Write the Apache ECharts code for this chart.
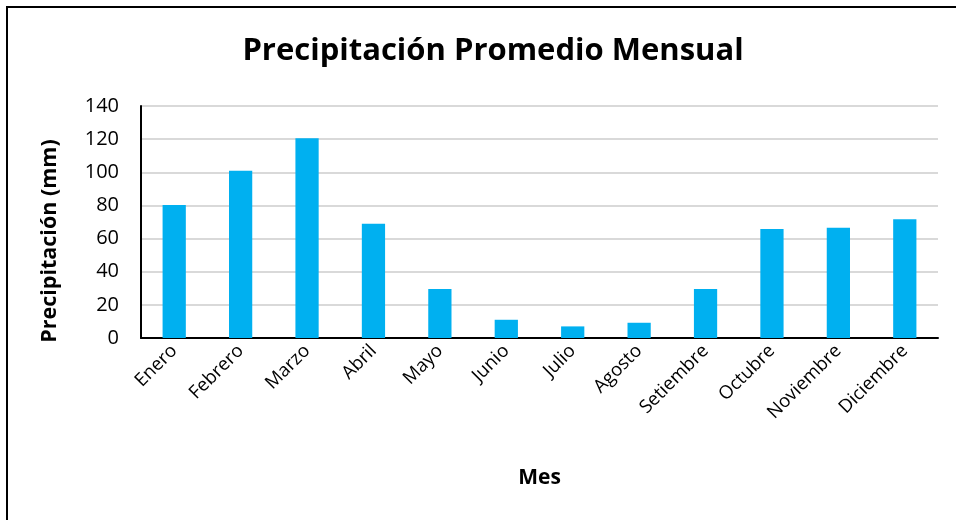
<!DOCTYPE html>
<html>
<head>
<meta charset="utf-8">
<script src="https://cdn.jsdelivr.net/npm/echarts@6/dist/echarts.min.js"></script>
<style>
  html, body { margin: 0; padding: 0; background: #fff; overflow: hidden; }
  #frame { position: absolute; left: 6px; top: 6px; width: 1000px; height: 600px;
           border-left: 2px solid #000; border-top: 2px solid #000; }
  #main { position: absolute; left: 0; top: 0; width: 956px; height: 520px; }
</style>
</head>
<body>
<div id="frame"></div>
<div id="main"></div>
<script>
const meses = ['Enero', 'Febrero', 'Marzo', 'Abril', 'Mayo', 'Junio', 'Julio',
  'Agosto', 'Setiembre', 'Octubre', 'Noviembre', 'Diciembre']
const precipitacion = [80.2, 101, 120.6, 69, 29.5, 11, 7, 9.2, 29.5, 65.8, 66.6, 71.6]
const yMin = 0
const yMax = 140
const yStep = 20

const font = "'Open Sans', 'Noto Sans', sans-serif"
const chart = echarts.init(document.getElementById('main'))

chart.setOption({
  animation: false,
  title: {
    text: 'Precipitación Promedio Mensual',
    left: 488,
    textAlign: 'center',
    top: 31,
    textStyle: { fontFamily: font, fontSize: 31, fontWeight: 'bold', color: '#000' }
  },
  grid: { left: 141, right: 18, top: 106, bottom: 182 },
  xAxis: {
    type: 'category',
    data: meses,
    name: 'Mes',
    nameLocation: 'middle',
    nameGap: 130,
    nameTextStyle: { fontFamily: font, fontSize: 21, fontWeight: 'bold', color: '#000' },
    axisLine: { lineStyle: { color: '#000', width: 2 } },
    axisTick: { show: false },
    axisLabel: { rotate: 45, interval: 0, margin: 10, fontFamily: font, fontSize: 18.5, color: '#000' }
  },
  yAxis: {
    type: 'value',
    min: yMin,
    max: yMax,
    interval: yStep,
    name: 'Precipitación (mm)',
    nameLocation: 'middle',
    nameGap: 80,
    nameTextStyle: { fontFamily: font, fontSize: 21.5, fontWeight: 'bold', color: '#000', padding: [0, 38, 0, 0] },
    axisLine: { show: true, lineStyle: { color: '#000', width: 2 } },
    axisTick: { show: false },
    axisLabel: { margin: 22, fontFamily: font, fontSize: 20, color: '#000' },
    splitLine: { lineStyle: { color: '#d9d9d9', width: 2 } }
  },
  series: [{
    type: 'bar',
    data: precipitacion,
    barWidth: '35%',
    itemStyle: { color: '#00b0f0' }
  }]
})
</script>
</body>
</html>
